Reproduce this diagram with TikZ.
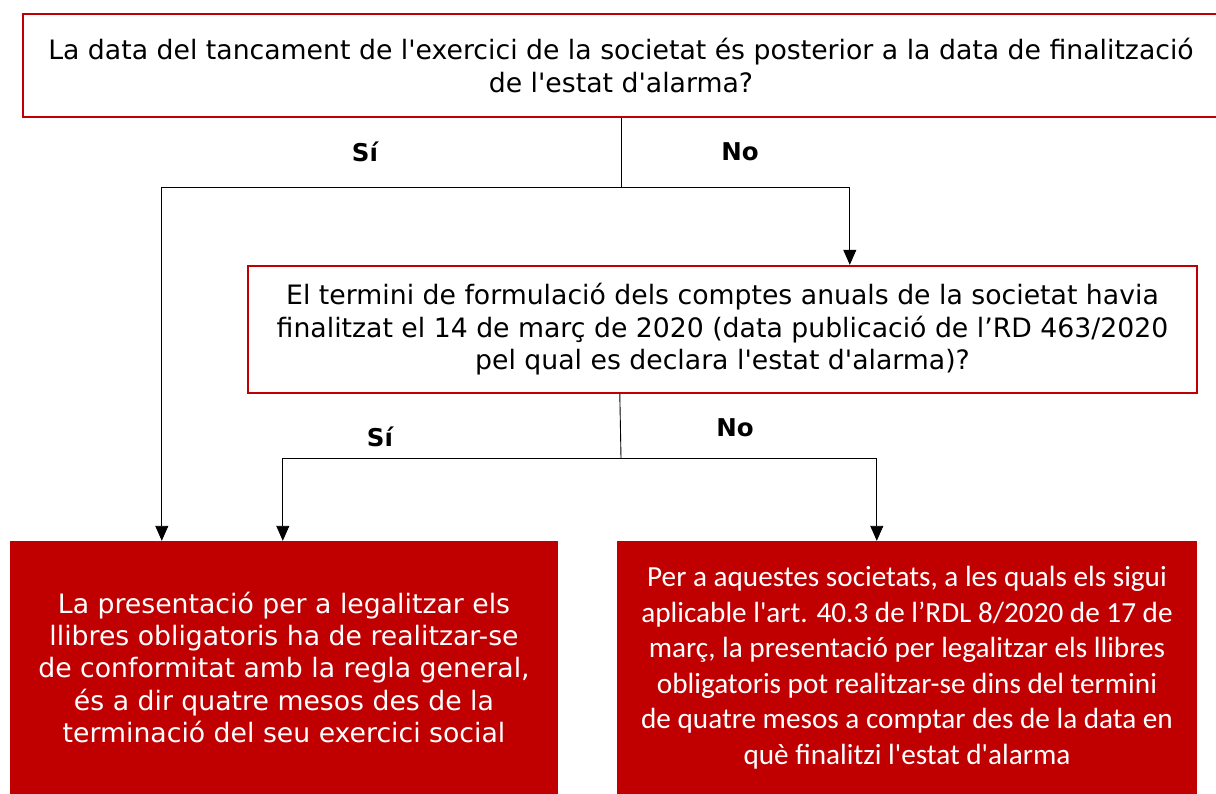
\documentclass[tikz,border=0pt]{standalone}
\usepackage{fontspec}
\setmainfont{DejaVu Sans}[Ligatures=TeXOff]
\newfontfamily\calibrifont{Carlito}[Ligatures=TeXOff]
\usetikzlibrary{arrows.meta,positioning}
\definecolor{vermell}{RGB}{192,0,0}

\begin{document}
\begin{tikzpicture}[x=1pt,y=-1pt,
    pregunta/.style={draw=vermell, line width=2.4pt, fill=white, align=center, inner sep=0pt,
      font=\fontsize{26.7}{32.5}\selectfont},
    resultat/.style={fill=vermell, text=white, align=center, inner sep=0pt},
    fletxa/.style={-{Triangle[length=15pt,width=13pt]}, line width=0.9pt},
    linia/.style={line width=0.9pt},
    etiqueta/.style={font=\bfseries\fontsize{24.5}{28}\selectfont}]
  \useasboundingbox (0,0) rectangle (1216,794);

  \node[pregunta, minimum width=1196pt, minimum height=103pt] (q1) at (621,65.5)
    {La data del tancament de l'exercici de la societat és posterior a la data de finalització\\
     de l'estat d'alarma?};
  \node[pregunta, minimum width=949pt, minimum height=127pt] (q2) at (722.5,329.5)
    {El termini de formulació dels comptes anuals de la societat havia\\
     finalitzat el 14 de març de 2020 (data publicació de l’RD 463/2020\\
     pel qual es declara l'estat d'alarma)?};
  \node[resultat, minimum width=548pt, minimum height=253pt,
    font=\fontsize{26.7}{32.2}\selectfont] (r1) at (284,667.5)
    {La presentació per a legalitzar els\\
     llibres obligatoris ha de realitzar-se\\
     de conformitat amb la regla general,\\
     és a dir quatre mesos des de la\\
     terminació del seu exercici social};
  \node[resultat, minimum width=580pt, minimum height=253pt,
    font=\calibrifont\fontsize{29.2}{35.5}\selectfont] (r2) at (907,667.5)
    {Per a aquestes societats, a les quals els sigui\\
     aplicable l'art. 40.3 de l’RDL 8/2020 de 17 de\\
     març, la presentació per legalitzar els llibres\\
     obligatoris pot realitzar-se dins del termini\\
     de quatre mesos a comptar des de la data en\\
     què finalitzi l'estat d'alarma};

  \node[etiqueta] (si1) at (365,152) {Sí};
  \node[etiqueta] (no1) at (740,152) {No};
  \node[etiqueta] (si2) at (380,437) {Sí};
  \node[etiqueta] (no2) at (735,428) {No};

  \coordinate (nus1) at (621,187);
  \coordinate (nus2) at (621,458);
  \draw[linia] (q1.south) -- (nus1);
  \draw[fletxa] (nus1) -| ([xshift=152pt]r1.north west);
  \draw[fletxa] (nus1) -| ([xshift=603pt]q2.north west);
  \draw[linia] ([xshift=373pt]q2.south west) -- (nus2);
  \draw[fletxa] (nus2) -| ([xshift=273pt]r1.north west);
  \draw[fletxa] (nus2) -| ([xshift=260pt]r2.north west);
\end{tikzpicture}
\end{document}
